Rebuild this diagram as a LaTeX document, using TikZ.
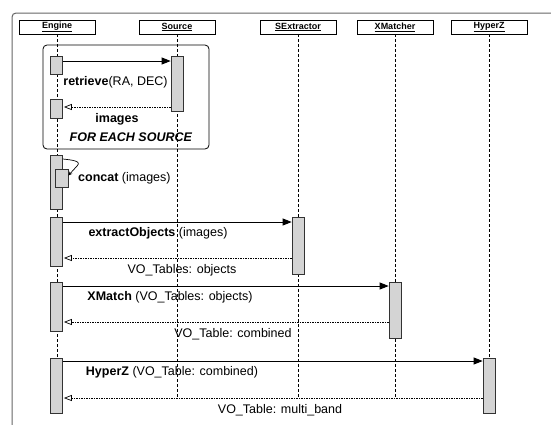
\documentclass[tikz,border=0pt]{standalone}
\usepackage{fontspec}
\setmainfont{Liberation Sans}
\usepackage{tikz}
\usetikzlibrary{arrows.meta}

\tikzset{
  actor/.style={draw, fill=white, line width=0.6pt, minimum width=76pt, minimum height=14pt, inner sep=0pt, font=\fontsize{9}{10}\selectfont\bfseries},
  activation/.style={draw=black!80, fill=black!17, line width=0.7pt, minimum width=12pt, inner sep=0pt},
  lifeline/.style={dash pattern=on 3pt off 2pt, line width=0.6pt},
  call/.style={-{Triangle[length=9pt,width=7pt]}, line width=0.9pt},
  reply/.style={-{Triangle[open,length=8pt,width=6pt,sep=1pt]}, dash pattern=on 1.5pt off 1pt, line width=0.7pt},
  msg/.style={font=\fontsize{12.5}{15}\selectfont, inner sep=0pt},
}

\begin{document}
\begin{tikzpicture}[x=1pt,y=-1pt]
  \useasboundingbox (0,0) rectangle (551,424);
  %
  % FRAME
  \draw[rounded corners=4pt, draw=black!60, line width=1pt] (12,13) rectangle (580,450);
  %
  % ACTORS
  \node[actor] (engine) at (57,27) {\underline{Engine}};
  \node[actor] (source) at (177,27) {\underline{Source}};
  \node[actor] (sextractor) at (298,27) {\underline{SExtractor}};
  \node[actor] (xmatcher) at (395,27) {\underline{XMatcher}};
  \node[actor] (hyperz) at (489,27) {\underline{HyperZ}};
  %
  % MESSAGE LEVELS
  \coordinate (m1) at (0,61);
  \coordinate (m2) at (0,107);
  \coordinate (m3) at (0,159);
  \coordinate (m4) at (0,222);
  \coordinate (m5) at (0,258);
  \coordinate (m6) at (0,286);
  \coordinate (m7) at (0,322);
  \coordinate (m8) at (0,361);
  \coordinate (m9) at (0,398);
  \coordinate (mend) at (0,413);
  %
  % LIFELINES
  \draw[lifeline] (engine.south) -- (engine.south |- mend);
  \draw[lifeline] (source.south) -- (source.south |- m9);
  \draw[lifeline] (sextractor.south) -- (sextractor.south |- m9);
  \draw[lifeline] (xmatcher.south) -- (xmatcher.south |- m9);
  \draw[lifeline] (hyperz.south) -- (hyperz.south |- m9);
  %
  % LOOP
  \draw[rounded corners=4pt, line width=0.8pt] (43,45) rectangle (209,149);
  \node[msg] (loop) at (131,137) {\textbf{\textit{FOR EACH SOURCE}}};
  %
  % ACTIVATIONS
  \node[activation, minimum height=18pt] (eng1) at (56.5,65) {};
  \node[activation, minimum height=55pt] (src) at (177,83.5) {};
  \node[activation, minimum height=19pt] (eng2) at (56.5,108.5) {};
  \node[activation, minimum height=54pt] (engC) at (56.5,182) {};
  \node[activation, minimum width=13pt, minimum height=18pt] (inner) at (61.5,178) {};
  \node[activation, minimum height=49pt] (eng3) at (56.5,241.5) {};
  \node[activation, minimum height=57pt] (sex) at (298,245.5) {};
  \node[activation, minimum height=49pt] (eng4) at (56.5,306.5) {};
  \node[activation, minimum height=56pt] (xm) at (395,310) {};
  \node[activation, minimum height=55pt] (eng5) at (56.5,385.5) {};
  \node[activation, minimum height=55pt] (hz) at (489,385.5) {};
  %
  % RETRIEVE
  \draw[call] (eng1.east |- m1) -- (src.west |- m1);
  \node[msg] (retrieve) at (115.5,82) {\textbf{retrieve}(RA, DEC)};
  \draw[reply] (src.west |- m2) -- (eng2.east |- m2);
  \node[msg] (images) at (117,119) {\textbf{images}};
  %
  % CONCAT
  \draw[-{Stealth[length=4pt,width=3.5pt]}, line width=0.7pt] (engC.east |- m3) .. controls (72,160) and (82,161) .. (77,166) -- (inner.20);
  \node[msg, anchor=west] (concat) at (78,178) {\textbf{concat} (images)};
  %
  % EXTRACT
  \draw[call] (eng3.east |- m4) -- (sex.west |- m4);
  \node[msg] (extract) at (158,233) {\textbf{extractObjects} (images)};
  \draw[reply] (sex.west |- m5) -- (eng3.east |- m5);
  \node[msg] (objects) at (182,270) {VO\_Tables: objects};
  %
  % XMATCH
  \draw[call] (eng4.east |- m6) -- (xm.west |- m6);
  \node[msg] (xmatch) at (170,297) {\textbf{XMatch} (VO\_Tables: objects)};
  \draw[reply] (xm.west |- m7) -- (eng4.east |- m7);
  \node[msg] (combined) at (233,334) {VO\_Table: combined};
  %
  % HYPERZ
  \draw[call] (eng5.east |- m8) -- (hz.west |- m8);
  \node[msg] (hyper) at (172,372) {\textbf{HyperZ} (VO\_Table: combined)};
  \draw[reply] (hz.west |- m9) -- (eng5.east |- m9);
  \node[msg] (multiband) at (280,410) {VO\_Table: multi\_band};
  %
\end{tikzpicture}
\end{document}
